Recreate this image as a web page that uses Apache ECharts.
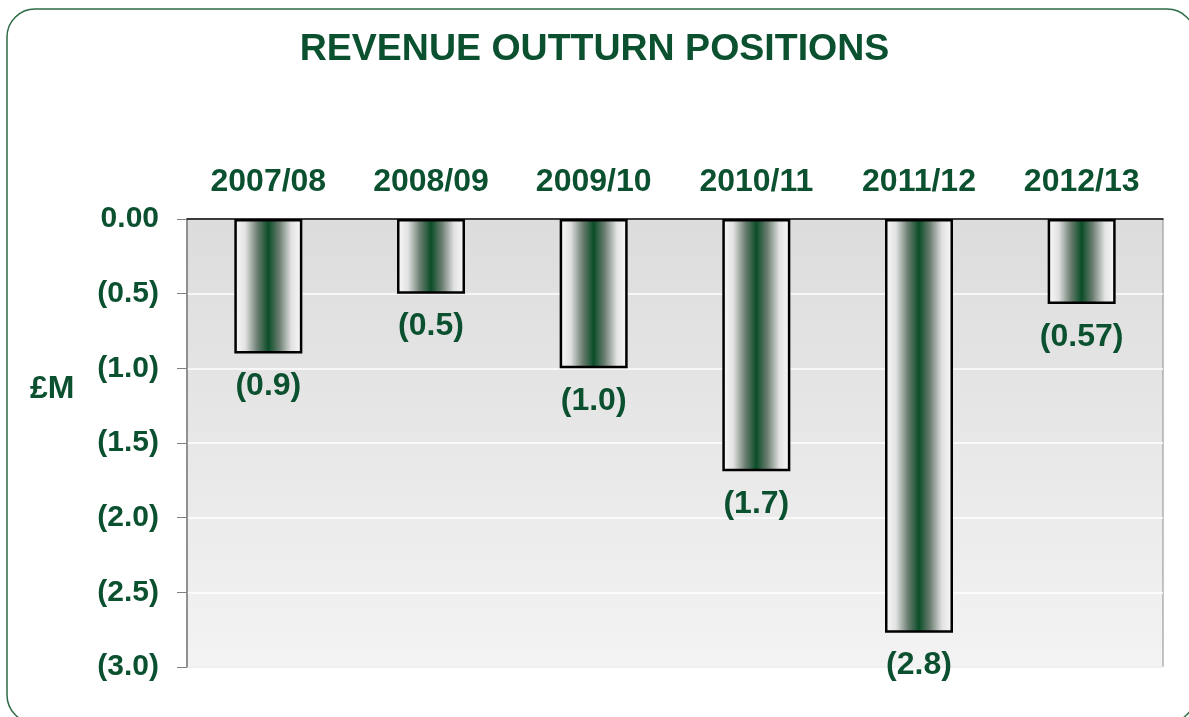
<!DOCTYPE html>
<html>
<head>
<meta charset="utf-8">
<script src="https://cdn.jsdelivr.net/npm/echarts@6/dist/echarts.min.js"></script>
<style>
    html, body { margin: 0; padding: 0; background: #fff; }
    #chart { width: 1189px; height: 717px; }
</style>
</head>
<body>
<div id="chart"></div>
<script>
    const years = ['2007/08', '2008/09', '2009/10', '2010/11', '2011/12', '2012/13']
    const outturn = [-0.9, -0.5, -1.0, -1.69, -2.77, -0.57]
    const outturnLabels = ['(0.9)', '(0.5)', '(1.0)', '(1.7)', '(2.8)', '(0.57)']

    const green = '#0b5130'
    const font = '"Liberation Sans", Arial, sans-serif'

    const chart = echarts.init(document.getElementById('chart'))

    chart.setOption({
        animation: false,
        textStyle: {
            fontFamily: font
        },
        title: {
            text: 'REVENUE OUTTURN POSITIONS',
            left: 'center',
            top: 26,
            textStyle: {
                color: green,
                fontSize: 37.5,
                fontWeight: 'bold',
                fontFamily: font
            }
        },
        graphic: [{
            type: 'rect',
            shape: { x: 7, y: 9, width: 1188, height: 714, r: 28 },
            style: { fill: 'none', stroke: '#2e6b46', lineWidth: 1.5 },
            z: 100
        }, {
            type: 'text',
            left: 30,
            top: 373,
            style: {
                text: '£M',
                fill: green,
                font: 'bold 32px ' + font
            }
        }],
        grid: {
            left: 187,
            right: 26,
            top: 219,
            bottom: 50,
            show: true,
            borderColor: '#8c8c8c',
            borderWidth: 1,
            backgroundColor: {
                type: 'linear', x: 0, y: 0, x2: 0, y2: 1,
                colorStops: [
                    { offset: 0, color: '#dcdcdc' },
                    { offset: 1, color: '#f3f3f3' }
                ]
            }
        },
        xAxis: {
            type: 'category',
            position: 'top',
            data: years,
            axisLine: {
                lineStyle: { color: '#000', width: 1.5 }
            },
            axisTick: {
                inside: true,
                length: 9,
                lineStyle: { color: '#000' }
            },
            axisLabel: {
                color: green,
                fontSize: 32,
                fontWeight: 'bold',
                margin: 21
            }
        },
        yAxis: {
            type: 'value',
            min: -3,
            max: 0,
            interval: 0.5,
            axisLine: {
                show: true,
                lineStyle: { color: '#808080', width: 1.5 }
            },
            axisTick: {
                show: true,
                length: 10,
                lineStyle: { color: '#808080' }
            },
            splitLine: {
                lineStyle: { color: '#ffffff', width: 1.5 }
            },
            axisLabel: {
                color: green,
                fontSize: 30,
                fontWeight: 'bold',
                margin: 28,
                formatter (v) {
                    if (v === 0) return '0.00'
                    return '(' + Math.abs(v).toFixed(1) + ')'
                }
            }
        },
        series: [{
            type: 'bar',
            data: outturn,
            barWidth: 68,
            itemStyle: {
                borderColor: '#000',
                borderWidth: 2.5,
                color: {
                    type: 'linear', x: 0, y: 0, x2: 1, y2: 0,
                    colorStops: [
                        { offset: 0, color: '#fbfbfb' },
                        { offset: 0.16, color: '#e2e2e2' },
                        { offset: 0.34, color: '#6a7d70' },
                        { offset: 0.5, color: '#0b4d28' },
                        { offset: 0.66, color: '#6a7d70' },
                        { offset: 0.84, color: '#e2e2e2' },
                        { offset: 1, color: '#fbfbfb' }
                    ]
                }
            },
            label: {
                show: true,
                position: 'bottom',
                distance: 17,
                color: green,
                fontSize: 32,
                fontWeight: 'bold',
                formatter (p) {
                    return outturnLabels[p.dataIndex]
                }
            }
        }]
    })
</script>
</body>
</html>
